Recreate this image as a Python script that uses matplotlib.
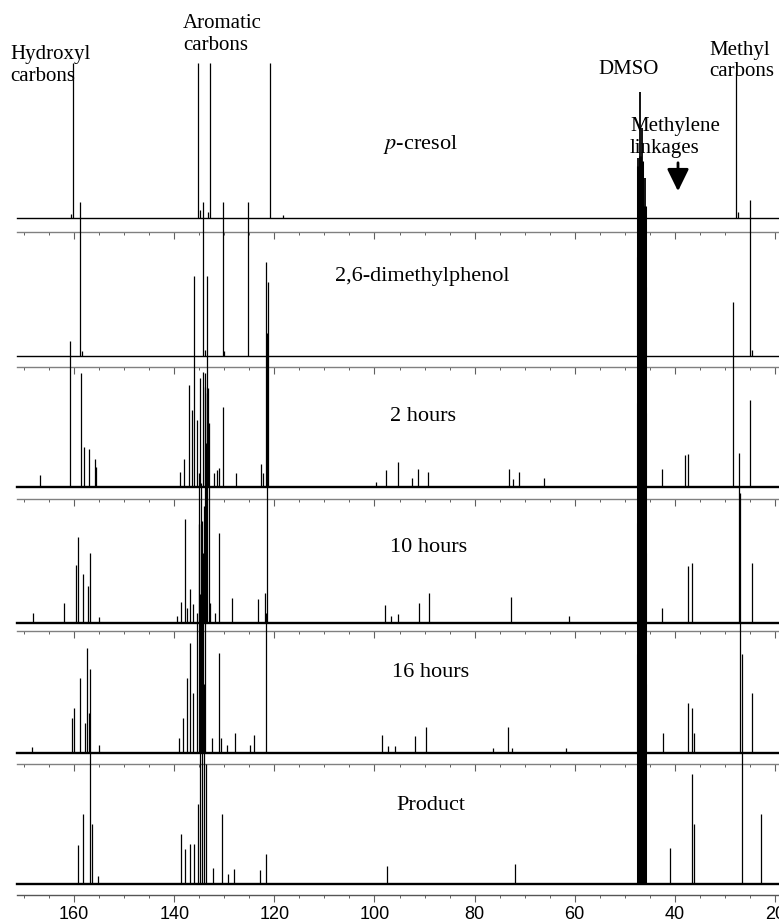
import matplotlib
matplotlib.use("Agg")
import matplotlib.pyplot as plt
from matplotlib.ticker import MultipleLocator, FixedLocator

plt.rcParams["mathtext.fontset"] = "stix"

W, H = 779, 922
fig = plt.figure(figsize=(W / 100, H / 100), dpi=100)

# ---------------- data (ppm, peak heights in px) ----------------
panel_names = [r"$\it{p}$-cresol", "2,6-dimethylphenol", "2 hours", "10 hours", "16 hours", "Product"]

pcresol_ppm = [160.6, 160.3, 135.3, 134.9, 133.2, 132.8, 120.9, 118.3, 27.8, 27.3]
pcresol_h = [4, 155, 155, 8, 6, 155, 155, 3, 146, 6]

dmp_ppm = [158.8, 158.5, 134.3, 133.9, 130.3, 130.0, 125.3, 24.9, 24.5]
dmp_h = [154, 5, 154, 6, 154, 5, 154, 156, 6]

h2_ppm = [166.8, 160.9, 158.6, 158.1, 157.1, 155.9, 155.6, 138.8, 138.0, 137.0, 136.5,
          136.0, 135.5, 134.8, 134.3, 133.9, 133.5, 133.2, 132.0, 131.5, 131.0, 130.2,
          127.7, 122.7, 122.2, 121.6, 121.3, 99.7, 97.7, 95.3, 92.6, 91.4, 89.4, 73.1,
          72.3, 71.1, 66.1, 42.5, 38.0, 37.3, 28.3, 24.9]
h2_h = [12, 146, 114, 40, 38, 28, 20, 15, 28, 102, 77,
        211, 67, 109, 115, 100, 211, 99, 14, 17, 19, 80,
        14, 23, 14, 225, 205, 5, 17, 25, 9, 18, 15, 18,
        8, 15, 9, 18, 32, 33, 185, 87]

h10_ppm = [168.2, 162.1, 159.6, 159.2, 158.3, 157.2, 156.8, 155.1, 139.5, 138.7, 137.8,
           137.4, 136.8, 136.3, 135.0, 134.5, 134.0, 133.8, 133.6, 133.4, 133.1, 132.8,
           131.8, 131.0, 128.4, 123.2, 121.9, 121.5, 97.9, 96.7, 95.3, 91.2, 89.1, 72.7,
           61.1, 42.5, 37.4, 36.6, 27.1, 24.6]
h10_h = [10, 20, 58, 86, 49, 37, 70, 6, 7, 21, 104,
         15, 34, 19, 99, 102, 117, 250, 180, 230, 200, 20,
         10, 90, 25, 24, 30, 290, 18, 7, 9, 20, 30, 26,
         7, 15, 57, 60, 170, 60]

h16_ppm = [168.5, 160.4, 160.0, 158.8, 157.8, 157.4, 157.0, 155.0, 139.0, 138.2, 137.4,
           136.8, 136.2, 135.4, 135.0, 134.6, 134.2, 133.8, 132.5, 131.0, 130.6, 129.5,
           127.9, 124.8, 124.0, 121.6, 98.5, 97.2, 95.8, 91.9, 89.8, 76.3, 73.3, 72.5,
           61.7, 42.3, 37.4, 36.6, 36.2, 27.0, 24.6]
h16_h = [6, 35, 45, 75, 30, 105, 40, 8, 15, 35, 75,
         110, 60, 140, 280, 270, 200, 150, 15, 100, 15, 8,
         20, 8, 18, 140, 18, 7, 7, 17, 26, 5, 26, 5,
         5, 20, 50, 45, 20, 260, 60]

prod_ppm = [159.3, 158.3, 156.8, 156.4, 155.3, 138.6, 137.8, 136.8, 136.0, 135.3, 134.8,
            134.4, 134.0, 133.6, 132.3, 130.5, 129.3, 128.0, 122.9, 121.7, 97.4, 71.9,
            41.0, 36.5, 36.1, 26.5, 22.8]
prod_h = [39, 70, 215, 60, 8, 50, 35, 40, 40, 80, 290,
          280, 200, 120, 16, 70, 10, 15, 14, 30, 18, 20,
          36, 110, 60, 230, 70]

dmso_ppm = [47.3, 46.9, 46.5, 46.0]
dmso_h = [[60, 126, 90, 40],
          [190, 200, 195, 150],
          [230, 240, 235, 200],
          [220, 230, 225, 210],
          [230, 240, 235, 200],
          [230, 240, 235, 200]]

peaks_ppm = [pcresol_ppm, dmp_ppm, h2_ppm, h10_ppm, h16_ppm, prod_ppm]
peaks_h = [pcresol_h, dmp_h, h2_h, h10_h, h16_h, prod_h]

tick_values = [160, 140, 120, 100, 80, 60, 40, 20]

# ---------------- layout (pixels) ----------------
axis_y = [232, 367, 499, 631, 764, 895]
base_gap = [14, 11, 12, 8, 11, 11]
label_y = [145, 277, 416, 547, 672, 805]
label_x = [420, 422, 423, 429, 431, 431]
base_lw = [1.0, 1.0, 1.7, 1.7, 1.7, 1.7]
dmso_lw = [1.3, 2.2, 2.2, 2.2, 2.2, 2.2]
XL, XR = 171.4, 19.2
left_px = 17
AXH = 100

axes = []
for i in range(6):
    ax = fig.add_axes([left_px / W, 1 - axis_y[i] / H, (W - left_px) / W, AXH / H])
    ax.patch.set_visible(False)
    ax.set_xlim(XL, XR)
    ax.set_ylim(-base_gap[i], AXH - base_gap[i])
    for s in ["top", "left", "right"]:
        ax.spines[s].set_visible(False)
    ax.spines["bottom"].set_color("#808080" if i < 5 else "#555555")
    ax.spines["bottom"].set_linewidth(1.0)
    ax.yaxis.set_visible(False)
    ax.xaxis.set_major_locator(FixedLocator(tick_values))
    ax.xaxis.set_minor_locator(MultipleLocator(5))
    ax.tick_params(axis="x", which="major", direction="out", length=5, width=0.8,
                   color="#606060", labelsize=13, pad=3)
    ax.tick_params(axis="x", which="minor", direction="out", length=2.5, width=0.7,
                   color="#606060")
    if i < 5:
        ax.tick_params(axis="x", which="both", labelbottom=False)
    else:
        for lab in ax.get_xticklabels():
            lab.set_family(["Liberation Sans", "DejaVu Sans"])
    ax.axhline(0, color="black", lw=base_lw[i], clip_on=False)
    ax.vlines(peaks_ppm[i], 0, peaks_h[i], color="black", lw=0.9, clip_on=False)
    ax.vlines(dmso_ppm, 0, dmso_h[i], color="black", lw=dmso_lw[i], clip_on=False)
    fig.text(label_x[i] / W, 1 - label_y[i] / H, panel_names[i], ha="center", va="center",
             fontsize=16, family=["Liberation Serif", "DejaVu Serif"])
    axes.append(ax)

serif = ["Liberation Serif", "DejaVu Serif"]
fig.text(10 / W, 1 - 65.5 / H, "Hydroxyl\ncarbons", ha="left", va="center",
         fontsize=15, family=serif, linespacing=1.2)
fig.text(183 / W, 1 - 34.5 / H, "Aromatic\ncarbons", ha="left", va="center",
         fontsize=15, family=serif, linespacing=1.2)
fig.text(598 / W, 1 - 70 / H, "DMSO", ha="left", va="center", fontsize=15, family=serif)
fig.text(709 / W, 1 - 61 / H, "Methyl\ncarbons", ha="left", va="center",
         fontsize=15, family=serif, linespacing=1.1)
fig.text(630 / W, 1 - 137.5 / H, "Methylene\nlinkages", ha="left", va="center",
         fontsize=15, family=serif, linespacing=1.2)
axes[0].annotate("", xy=(678 / W, 1 - 194 / H), xytext=(678 / W, 1 - 160 / H),
                 xycoords="figure fraction", textcoords="figure fraction",
                 arrowprops=dict(arrowstyle="-|>,head_length=0.45,head_width=0.22",
                                 color="black", lw=2, mutation_scale=30))

fig.savefig("out.png", dpi=100)
